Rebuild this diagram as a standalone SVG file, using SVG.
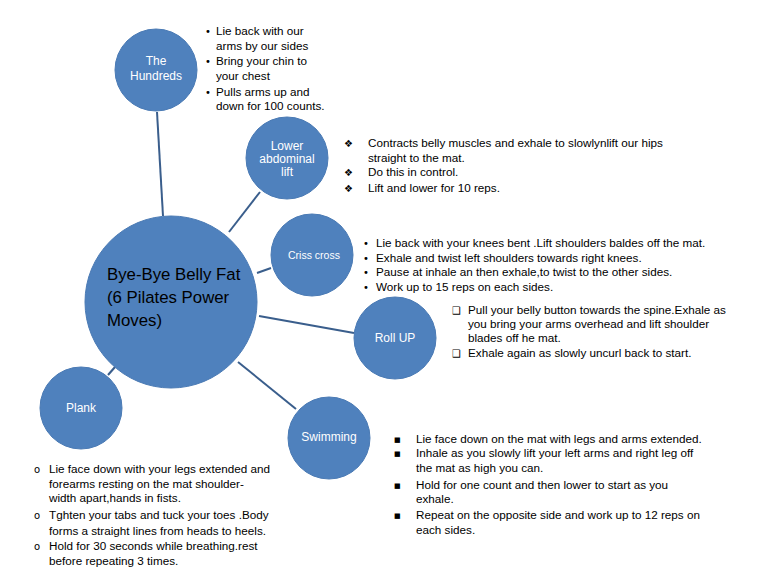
<svg xmlns="http://www.w3.org/2000/svg" width="768" height="576" viewBox="0 0 768 576">
<style>
.node{fill:#4F81BD;stroke:#4A7AB4;stroke-width:1}
.lbl{font-family:"Liberation Sans",Arial,sans-serif;font-size:12px;fill:#ffffff;text-anchor:middle}
.t{font-family:"Liberation Sans",Arial,sans-serif;font-size:11.7px;fill:#000000}
.b{font-family:"DejaVu Sans",sans-serif;font-size:10px;fill:#000000}
.sq{font-family:"DejaVu Sans",sans-serif;font-size:7px;fill:#000000}
.main{font-family:"Liberation Sans",Arial,sans-serif;font-size:16.8px;fill:#000000}
.conn line{stroke:#3A5E8C;stroke-width:2}
</style>
<rect width="768" height="576" fill="#ffffff"/>
<g id="connectors" class="conn">
<line x1="157" y1="112" x2="163" y2="216"/>
<line x1="229" y1="232" x2="260" y2="192"/>
<line x1="257" y1="273" x2="271" y2="268"/>
<line x1="259" y1="316" x2="354" y2="333"/>
<line x1="108" y1="375" x2="115" y2="367"/>
<line x1="238" y1="362" x2="296" y2="409"/>
</g>
<g id="center">
<circle class="node" cx="171" cy="302" r="86"/>
<text class="main" x="107" y="280">Bye-Bye Belly Fat</text>
<text class="main" x="107" y="303">(6 Pilates Power</text>
<text class="main" x="107" y="326">Moves)</text>
</g>
<g id="hundreds">
<circle class="node" cx="156" cy="70" r="41"/>
<text class="lbl" x="156" y="65">The</text>
<text class="lbl" x="156" y="80">Hundreds</text>
<text class="b" x="205" y="35">•</text><text class="t" x="216" y="35">Lie back with our</text>
<text class="t" x="216" y="49.5">arms by our sides</text>
<text class="b" x="205" y="65">•</text><text class="t" x="216" y="65">Bring your chin to</text>
<text class="t" x="216" y="79.5">your chest</text>
<text class="b" x="205" y="96">•</text><text class="t" x="216" y="96">Pulls arms up and</text>
<text class="t" x="216" y="110">down for 100 counts.</text>
</g>
<g id="lower-abdominal-lift">
<circle class="node" cx="287" cy="158" r="41"/>
<text class="lbl" x="287" y="150">Lower</text>
<text class="lbl" x="287" y="163">abdominal</text>
<text class="lbl" x="287" y="176">lift</text>
<text class="b" x="344" y="147">❖</text><text class="t" x="368" y="147">Contracts belly muscles and exhale to slowlynlift our hips</text>
<text class="t" x="368" y="162">straight to the mat.</text>
<text class="b" x="344" y="176">❖</text><text class="t" x="368" y="176">Do this in control.</text>
<text class="b" x="344" y="192">❖</text><text class="t" x="368" y="192">Lift and lower for 10 reps.</text>
</g>
<g id="criss-cross">
<circle class="node" cx="312" cy="255" r="41"/>
<text class="lbl" x="314" y="259" style="font-size:10.5px">Criss cross</text>
<text class="b" x="363" y="247">•</text><text class="t" x="376" y="247">Lie back with your knees bent .Lift shoulders baldes off the mat.</text>
<text class="b" x="363" y="262">•</text><text class="t" x="376" y="262">Exhale and twist left shoulders towards right knees.</text>
<text class="b" x="363" y="276">•</text><text class="t" x="376" y="276">Pause at inhale an then exhale,to twist to the other sides.</text>
<text class="b" x="363" y="291">•</text><text class="t" x="376" y="291">Work up to 15 reps on each sides.</text>
</g>
<g id="roll-up">
<circle class="node" cx="395" cy="338" r="41"/>
<text class="lbl" x="395" y="342">Roll UP</text>
<text class="b" x="452" y="314">❑</text><text class="t" x="468" y="314">Pull your belly button towards the spine.Exhale as</text>
<text class="t" x="468" y="328">you bring your arms overhead and lift shoulder</text>
<text class="t" x="468" y="342">blades off he mat.</text>
<text class="b" x="452" y="357">❑</text><text class="t" x="468" y="357">Exhale again as slowly uncurl back to start.</text>
</g>
<g id="plank">
<circle class="node" cx="81" cy="408" r="41"/>
<text class="lbl" x="81" y="412">Plank</text>
<text class="b" x="34" y="473">o</text><text class="t" x="49" y="473">Lie face down with your legs extended and</text>
<text class="t" x="49" y="488">forearms resting on the mat shoulder-</text>
<text class="t" x="49" y="502">width apart,hands in fists.</text>
<text class="b" x="34" y="519">o</text><text class="t" x="49" y="519">Tghten your tabs and tuck your toes .Body</text>
<text class="t" x="49" y="535">forms a straight lines from heads to heels.</text>
<text class="b" x="34" y="550">o</text><text class="t" x="49" y="550">Hold for 30 seconds while breathing.rest</text>
<text class="t" x="49" y="565">before repeating 3 times.</text>
</g>
<g id="swimming">
<circle class="node" cx="329" cy="438" r="41"/>
<text class="lbl" x="329" y="441">Swimming</text>
<text class="sq" x="394" y="442">■</text><text class="t" x="416" y="443">Lie face down on the mat with legs and arms extended.</text>
<text class="sq" x="394" y="456">■</text><text class="t" x="416" y="457">Inhale as you slowly lift your  left arms and right leg off</text>
<text class="t" x="416" y="472">the mat as high you can.</text>
<text class="sq" x="394" y="488">■</text><text class="t" x="416" y="489">Hold for one count and then lower to start as you</text>
<text class="t" x="416" y="503">exhale.</text>
<text class="sq" x="394" y="518">■</text><text class="t" x="416" y="519">Repeat on the opposite side and work up to 12 reps on</text>
<text class="t" x="416" y="534">each sides.</text>
</g>
</svg>
